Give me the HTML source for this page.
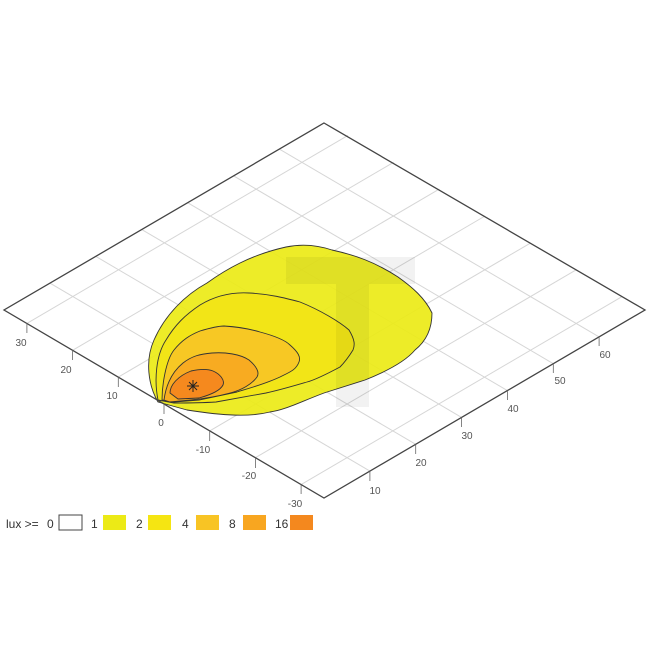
<!DOCTYPE html>
<html><head><meta charset="utf-8"><style>
html,body{margin:0;padding:0;background:#fff;}
svg{display:block;}
text{font-family:"Liberation Sans",sans-serif;}
</style></head><body>
<svg width="650" height="650" viewBox="0 0 650 650" xmlns="http://www.w3.org/2000/svg">
<rect width="650" height="650" fill="#fff"/>
<g stroke="#d6d6d6" stroke-width="1" fill="none">
<line x1="369.9" y1="471.1" x2="49.9" y2="283.1"/>
<line x1="415.7" y1="444.3" x2="95.7" y2="256.3"/>
<line x1="461.6" y1="417.4" x2="141.6" y2="229.4"/>
<line x1="507.4" y1="390.6" x2="187.4" y2="202.6"/>
<line x1="553.3" y1="363.7" x2="233.3" y2="175.7"/>
<line x1="599.1" y1="336.9" x2="279.1" y2="148.9"/>
<line x1="301.1" y1="484.6" x2="622.1" y2="296.6"/>
<line x1="255.4" y1="457.7" x2="576.4" y2="269.7"/>
<line x1="209.7" y1="430.9" x2="530.7" y2="242.9"/>
<line x1="164" y1="404" x2="485" y2="216"/>
<line x1="118.3" y1="377.1" x2="439.3" y2="189.1"/>
<line x1="72.6" y1="350.3" x2="393.6" y2="162.3"/>
<line x1="26.9" y1="323.4" x2="347.9" y2="135.4"/>
</g>
<g stroke="#333" stroke-width="0.9" stroke-linejoin="round" fill-opacity="0.92">
<path fill="#ecea16" d="M158,402 C148,385 145,360 154,340 C165,315 185,295 207,283 C225,270 250,255 286,247 C305,243 320,246 332,250 C355,255 375,262 398,277 C412,287 425,298 432,313 C432,330 425,342 415,350 C405,362 385,372 365,380 L324,393 C300,402 285,410 270,412 C250,417 225,416 187,410 Z"/>
<path fill="#f2e416" d="M158,400 C154,380 156,355 166,340 C175,325 185,315 200,305 C215,296 232,292 249,293 C270,294 285,298 300,302 C320,310 340,322 349,330 C355,340 355,345 353,350 C348,358 345,362 340,367 C325,375 315,380 307,382 C290,387 280,390 266,393 L216,402 C200,403 185,403 174,403 Z"/>
<path fill="#f7c626" d="M162,400 C162,385 166,360 174,350 C182,340 190,335 200,331 C210,328 218,326 224,326 C240,327 250,329 260,332 C275,336 285,340 290,345 C298,352 301,357 299,362 C296,370 290,372 280,377 C265,384 250,388 237,392 L199,400 L174,402 Z"/>
<path fill="#f7a822" d="M164,400 C166,385 172,372 183,363 C192,356 200,354 212,353 C225,352 240,354 249,360 C256,366 260,372 257,377 C252,384 242,390 230,393 C215,397 200,399 191,400 L170,402 Z"/>
<path fill="#f4861e" d="M170,393 C170,385 178,376 191,371 C200,369 208,369 213,371 C220,374 225,380 223,385 C220,391 210,395 199,398 L178,399 Z"/>
</g>
<g fill="#000" fill-opacity="0.05">
<rect x="286" y="257" width="129" height="27"/>
<rect x="336" y="284" width="33" height="123"/>
</g>
<g stroke="#222" stroke-width="1">
<line x1="187" y1="386" x2="199" y2="386"/><line x1="193" y1="380" x2="193" y2="392"/>
<line x1="189" y1="382" x2="197" y2="390"/><line x1="197" y1="382" x2="189" y2="390"/>
</g>
<polygon points="324,123 645,310 324,498 4,310" fill="none" stroke="#444" stroke-width="1.3"/>
<g stroke="#666" stroke-width="0.8">
<line x1="26.9" y1="323.4" x2="26.9" y2="333"/>
<line x1="72.6" y1="350.3" x2="72.6" y2="360"/>
<line x1="118.3" y1="377.1" x2="118.3" y2="387"/>
<line x1="164" y1="404" x2="164" y2="414"/>
<line x1="209.7" y1="430.9" x2="209.7" y2="441"/>
<line x1="255.4" y1="457.7" x2="255.4" y2="468"/>
<line x1="301.1" y1="484.6" x2="301.1" y2="494"/>
<line x1="369.9" y1="471.1" x2="369.9" y2="481"/>
<line x1="415.7" y1="444.3" x2="415.7" y2="454"/>
<line x1="461.6" y1="417.4" x2="461.6" y2="427"/>
<line x1="507.4" y1="390.6" x2="507.4" y2="400"/>
<line x1="553.3" y1="363.7" x2="553.3" y2="373"/>
<line x1="599.1" y1="336.9" x2="599.1" y2="346"/>
</g>
<g font-size="10" fill="#555" text-anchor="middle">
<text x="21" y="346">30</text>
<text x="66" y="373">20</text>
<text x="112" y="399">10</text>
<text x="161" y="426">0</text>
<text x="203" y="453">-10</text>
<text x="249" y="479">-20</text>
<text x="295" y="507">-30</text>
<text x="375" y="494">10</text>
<text x="421" y="466">20</text>
<text x="467" y="439">30</text>
<text x="513" y="412">40</text>
<text x="560" y="384">50</text>
<text x="605" y="358">60</text>
</g>
<g font-size="12" fill="#333">
<text x="6" y="528">lux &gt;=</text>
<text x="47" y="528">0</text>
<text x="91" y="528">1</text>
<text x="136" y="528">2</text>
<text x="182" y="528">4</text>
<text x="229" y="528">8</text>
<text x="275" y="528">16</text>
</g>
<rect x="59" y="515" width="23" height="15" fill="#fff" stroke="#444" stroke-width="1"/>
<rect x="103" y="515" width="23" height="15" fill="#ecea16"/>
<rect x="148" y="515" width="23" height="15" fill="#f5e512"/>
<rect x="196" y="515" width="23" height="15" fill="#f8c424"/>
<rect x="243" y="515" width="23" height="15" fill="#f8a620"/>
<rect x="290" y="515" width="23" height="15" fill="#f4881e"/>
</svg>
</body></html>
